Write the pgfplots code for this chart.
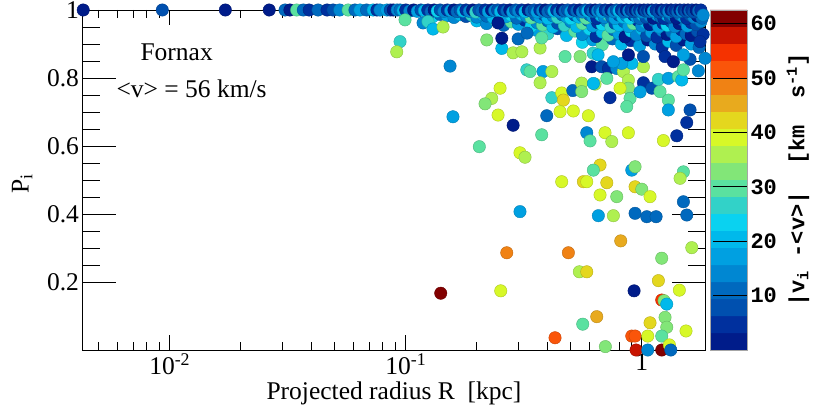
\documentclass[border=0pt]{standalone}
\usepackage{pgfplots}
\pgfplotsset{compat=1.18}
\usepackage{fontspec}
\setmainfont{Liberation Serif}
\setmonofont{Liberation Mono}
\newcommand{\fs}{\fontsize{25.5}{25.5}\selectfont}
\newcommand{\cbf}{\ttfamily\bfseries\fontsize{22}{22}\selectfont}
\definecolor{c1}{RGB}{0,28,138}
\definecolor{c2}{RGB}{0,48,158}
\definecolor{c3}{RGB}{0,80,175}
\definecolor{c4}{RGB}{0,105,190}
\definecolor{c5}{RGB}{0,135,210}
\definecolor{c6}{RGB}{0,160,225}
\definecolor{c7}{RGB}{0,185,235}
\definecolor{c8}{RGB}{10,210,240}
\definecolor{c9}{RGB}{50,210,200}
\definecolor{c10}{RGB}{90,225,160}
\definecolor{c11}{RGB}{130,230,120}
\definecolor{c12}{RGB}{175,240,80}
\definecolor{c13}{RGB}{215,248,40}
\definecolor{c14}{RGB}{228,215,30}
\definecolor{c15}{RGB}{232,170,30}
\definecolor{c16}{RGB}{240,130,20}
\definecolor{c17}{RGB}{250,85,10}
\definecolor{c18}{RGB}{245,50,0}
\definecolor{c19}{RGB}{200,20,0}
\definecolor{c20}{RGB}{130,0,0}
\pgfplotsset{
  colormap={rootjet}{color=(c1) color=(c2) color=(c3) color=(c4) color=(c5) color=(c6) color=(c7) color=(c8) color=(c9) color=(c10) color=(c11) color=(c12) color=(c13) color=(c14) color=(c15) color=(c16) color=(c17) color=(c18) color=(c19) color=(c20)},
  dots/.style={scatter, only marks, mark=*, mark size=6.2pt, scatter src=explicit},
  band/.style={draw=none, fill=#1, forget plot},
}
\begin{document}
\begin{tikzpicture}
% axis carrying the x ticks and x label
\begin{axis}[
  at={(0,0)}, anchor=south west,
  width=623pt, height=340pt, scale only axis,
  xmode=log, xmin=0.00427, xmax=1.862, ymin=0, ymax=1,
  axis line style={draw=none},
  ytick=\empty,
  xtick={0.001,0.01,0.1,1},
  xticklabels={10\textsuperscript{-3},10\textsuperscript{-2},10\textsuperscript{-1},1},
  xtick pos=both, tick align=inside,
  major tick length=15pt, minor tick length=8pt,
  tick style={black, line width=0.8pt},
  xticklabel style={font=\fs},
  xlabel={Projected radius R\ \ [kpc]},
  xlabel style={font=\fs},
]
\end{axis}
% colour scale
\begin{axis}[
  at={(627.5pt,0)}, anchor=south west,
  width=37pt, height=340pt, scale only axis,
  xmin=0, xmax=1, ymin=0, ymax=62.5,
  axis on top,
  xtick=\empty,
  ytick={10,20,30,40,50,60},
  yticklabels={10,20,30,40,50,60},
  yticklabel pos=right, ytick pos=right,
  tick align=inside,
  major tick length=34pt, yminorticks=false,
  tick style={black, line width=0.8pt},
  axis line style={draw=gray!70},
  yticklabel style={font=\cbf},
  ylabel={|v\textsubscript{i} -<v>|~~[km~~s\textsuperscript{-1}]},
  ylabel style={font=\cbf, at={(axis description cs:2.38,0.5)}, anchor=center},
]
\addplot[band=c1] coordinates {(0,0) (1,0) (1,3.2) (0,3.2) (0,0)};
\addplot[band=c2] coordinates {(0,3.125) (1,3.125) (1,6.3) (0,6.3) (0,3.125)};
\addplot[band=c3] coordinates {(0,6.25) (1,6.25) (1,9.45) (0,9.45) (0,6.25)};
\addplot[band=c4] coordinates {(0,9.375) (1,9.375) (1,12.57) (0,12.57) (0,9.375)};
\addplot[band=c5] coordinates {(0,12.5) (1,12.5) (1,15.7) (0,15.7) (0,12.5)};
\addplot[band=c6] coordinates {(0,15.625) (1,15.625) (1,18.82) (0,18.82) (0,15.625)};
\addplot[band=c7] coordinates {(0,18.75) (1,18.75) (1,21.95) (0,21.95) (0,18.75)};
\addplot[band=c8] coordinates {(0,21.875) (1,21.875) (1,25.07) (0,25.07) (0,21.875)};
\addplot[band=c9] coordinates {(0,25) (1,25) (1,28.2) (0,28.2) (0,25)};
\addplot[band=c10] coordinates {(0,28.125) (1,28.125) (1,31.32) (0,31.32) (0,28.125)};
\addplot[band=c11] coordinates {(0,31.25) (1,31.25) (1,34.45) (0,34.45) (0,31.25)};
\addplot[band=c12] coordinates {(0,34.375) (1,34.375) (1,37.57) (0,37.57) (0,34.375)};
\addplot[band=c13] coordinates {(0,37.5) (1,37.5) (1,40.7) (0,40.7) (0,37.5)};
\addplot[band=c14] coordinates {(0,40.625) (1,40.625) (1,43.82) (0,43.82) (0,40.625)};
\addplot[band=c15] coordinates {(0,43.75) (1,43.75) (1,46.95) (0,46.95) (0,43.75)};
\addplot[band=c16] coordinates {(0,46.875) (1,46.875) (1,50.07) (0,50.07) (0,46.875)};
\addplot[band=c17] coordinates {(0,50) (1,50) (1,53.2) (0,53.2) (0,50)};
\addplot[band=c18] coordinates {(0,53.125) (1,53.125) (1,56.32) (0,56.32) (0,53.125)};
\addplot[band=c19] coordinates {(0,56.25) (1,56.25) (1,59.45) (0,59.45) (0,56.25)};
\addplot[band=c20] coordinates {(0,59.375) (1,59.375) (1,62.5) (0,62.5) (0,59.375)};
\end{axis}
% axis carrying the data and y ticks
\begin{axis}[
  at={(0,0)}, anchor=south west,
  width=623pt, height=340pt, scale only axis,
  xmode=log, xmin=0.00427, xmax=1.862, ymin=0, ymax=1,
  clip=false,
  axis line style={black, line width=0.8pt},
  xtick=\empty,
  ytick={0.2,0.4,0.6,0.8,1},
  yticklabels={0.2,0.4,0.6,0.8,1},
  minor y tick num=3,
  ytick pos=both, tick align=inside,
  major tick length=34pt, minor tick length=18pt,
  tick style={black, line width=0.8pt},
  yticklabel style={font=\fs},
  ylabel={P\textsubscript{i}},
  ylabel style={font=\fs, at={(axis description cs:-0.097,0.49)}, anchor=center},
  colormap name=rootjet,
  colormap access=piecewise constant,
  point meta min=0, point meta max=62.5,
]
% layer E
\addplot[dots] table[x=R,y=P,meta=v] {
R P v
0.560 0.905 23.4
0.620 0.912 17.2
0.680 0.898 29.7
0.750 0.915 10.9
0.820 0.900 20.3
0.900 0.910 4.7
0.980 0.895 17.2
1.060 0.912 1.6
1.140 0.900 14.1
1.220 0.890 4.7
1.300 0.908 20.3
1.400 0.896 7.8
1.500 0.912 1.6
1.620 0.900 17.2
1.750 0.890 10.9
};
% layer D
\addplot[dots] table[x=R,y=P,meta=v] {
R P v
0.360 0.940 17.2
0.400 0.930 26.6
0.440 0.945 7.8
0.480 0.925 20.3
0.520 0.938 29.7
0.560 0.928 14.1
0.600 0.944 23.4
0.640 0.922 4.7
0.680 0.935 20.3
0.720 0.926 29.7
0.760 0.942 10.9
0.800 0.930 17.2
0.850 0.921 1.6
0.900 0.938 23.4
0.950 0.927 14.1
1.000 0.944 20.3
1.050 0.924 7.8
1.100 0.935 17.2
1.160 0.920 4.7
1.220 0.940 14.1
1.280 0.928 1.6
1.340 0.936 10.9
1.400 0.922 17.2
1.470 0.942 4.7
1.540 0.930 10.9
1.620 0.925 1.6
1.720 0.938 7.8
1.820 0.928 4.7
};
% layer C
\addplot[dots] table[x=R,y=P,meta=v] {
R P v
0.200 0.968 20.3
0.220 0.960 14.1
0.240 0.970 26.6
0.260 0.955 10.9
0.280 0.965 29.7
0.300 0.958 17.2
0.320 0.970 4.7
0.340 0.952 23.4
0.360 0.963 14.1
0.380 0.956 29.7
0.400 0.968 10.9
0.420 0.950 20.3
0.440 0.961 7.8
0.470 0.955 26.6
0.500 0.966 14.1
0.530 0.951 20.3
0.560 0.960 29.7
0.590 0.970 10.9
0.620 0.953 17.2
0.650 0.963 4.7
0.680 0.957 23.4
0.710 0.968 14.1
0.740 0.950 26.6
0.770 0.961 7.8
0.800 0.955 20.3
0.840 0.966 10.9
0.880 0.951 17.2
0.920 0.960 29.7
0.960 0.970 4.7
1.000 0.953 14.1
1.040 0.963 20.3
1.080 0.957 1.6
1.130 0.968 10.9
1.180 0.950 17.2
1.230 0.961 4.7
1.280 0.955 23.4
1.330 0.966 7.8
1.380 0.951 14.1
1.440 0.960 1.6
1.500 0.970 10.9
1.560 0.953 17.2
1.620 0.963 4.7
1.700 0.957 7.8
1.780 0.966 14.1
};
% layer B
\addplot[dots] table[x=R,y=P,meta=v] {
R P v
0.130 0.980 23.4
0.140 0.987 10.9
0.150 0.983 17.2
0.160 0.978 14.1
0.170 0.986 20.3
0.180 0.981 7.8
0.190 0.985 26.6
0.200 0.979 14.1
0.210 0.987 17.2
0.220 0.982 10.9
0.235 0.977 20.3
0.250 0.986 4.7
0.265 0.980 17.2
0.280 0.984 23.4
0.295 0.976 10.9
0.310 0.987 20.3
0.325 0.981 14.1
0.340 0.977 29.7
0.355 0.985 10.9
0.370 0.979 17.2
0.385 0.986 7.8
0.400 0.975 20.3
0.420 0.983 14.1
0.440 0.978 26.6
0.460 0.986 10.9
0.480 0.980 17.2
0.500 0.975 23.4
0.520 0.985 7.8
0.540 0.979 20.3
0.560 0.983 14.1
0.580 0.976 29.7
0.600 0.986 10.9
0.620 0.980 17.2
0.645 0.975 4.7
0.670 0.984 20.3
0.695 0.978 14.1
0.720 0.986 26.6
0.745 0.980 10.9
0.770 0.975 17.2
0.800 0.985 7.8
0.830 0.979 20.3
0.860 0.983 14.1
0.890 0.976 23.4
0.920 0.986 4.7
0.950 0.980 17.2
0.980 0.975 10.9
1.010 0.985 20.3
1.040 0.979 7.8
1.080 0.983 14.1
1.120 0.976 1.6
1.160 0.986 17.2
1.200 0.980 10.9
1.240 0.975 4.7
1.280 0.985 20.3
1.320 0.979 7.8
1.360 0.983 14.1
1.400 0.976 1.6
1.450 0.986 10.9
1.500 0.980 17.2
1.550 0.975 4.7
1.600 0.985 7.8
1.660 0.979 14.1
1.720 0.983 1.6
1.800 0.976 10.9
};
% layer A (P close to 1)
\addplot[dots] table[x=R,y=P,meta=v] {
R P v
0.0043 1.0 1.6
0.0093 1.0 7.8
0.0172 1.0 1.6
0.0264 1.0 1.6
0.0308 1.0 10.9
0.0323 1.0 1.6
0.0345 1.0 29.7
0.0368 1.0 10.9
0.0390 1.0 4.7
0.0425 1.0 10.9
0.0464 1.0 4.7
0.0492 1.0 7.8
0.0525 1.0 14.1
0.0570 1.0 29.7
0.0609 1.0 10.9
0.0640 1.0 17.2
0.0682 1.0 10.9
0.0728 1.0 20.3
0.0755 1.0 4.7
0.0778 1.0 14.1
0.0831 1.0 17.2
0.0860 1.0 7.8
0.0886 1.0 1.6
0.0920 1.0 14.1
0.0946 1.0 10.9
0.0975 0.998 20.3
0.100 1.0 4.7
0.104 0.997 14.1
0.108 1.0 1.6
0.112 0.996 17.2
0.116 1.0 7.8
0.120 0.998 20.3
0.124 1.0 4.7
0.128 0.995 10.9
0.132 1.0 1.6
0.136 0.997 23.4
0.140 1.0 7.8
0.145 0.996 14.1
0.150 1.0 4.7
0.155 0.998 17.2
0.160 1.0 1.6
0.165 0.995 10.9
0.170 1.0 7.8
0.175 0.997 20.3
0.180 1.0 4.7
0.186 0.996 14.1
0.192 1.0 1.6
0.198 0.994 26.6
0.204 1.0 7.8
0.210 0.997 10.9
0.217 1.0 4.7
0.224 0.995 17.2
0.231 1.0 1.6
0.238 0.998 14.1
0.245 1.0 7.8
0.252 0.995 20.3
0.260 1.0 4.7
0.268 0.997 10.9
0.276 1.0 1.6
0.284 0.994 17.2
0.292 1.0 7.8
0.300 0.997 14.1
0.310 1.0 4.7
0.320 0.995 20.3
0.330 1.0 1.6
0.340 0.997 10.9
0.350 1.0 7.8
0.360 0.994 17.2
0.370 1.0 4.7
0.380 0.997 14.1
0.390 1.0 1.6
0.400 0.995 10.9
0.412 1.0 7.8
0.424 0.997 20.3
0.436 1.0 4.7
0.448 0.994 14.1
0.460 1.0 1.6
0.472 0.997 10.9
0.485 1.0 7.8
0.500 0.995 17.2
0.515 1.0 4.7
0.530 0.997 10.9
0.545 1.0 1.6
0.560 0.994 14.1
0.575 1.0 7.8
0.590 0.997 20.3
0.605 1.0 4.7
0.620 0.995 10.9
0.635 1.0 1.6
0.650 0.997 14.1
0.665 1.0 7.8
0.680 0.994 17.2
0.700 1.0 4.7
0.720 0.997 10.9
0.740 1.0 1.6
0.760 0.995 14.1
0.780 1.0 7.8
0.800 0.997 20.3
0.820 1.0 4.7
0.840 0.994 10.9
0.860 1.0 1.6
0.880 0.997 14.1
0.900 1.0 4.7
0.920 0.995 7.8
0.940 1.0 1.6
0.960 0.997 10.9
0.980 1.0 4.7
1.000 0.994 14.1
1.020 1.0 1.6
1.040 0.997 7.8
1.060 1.0 4.7
1.080 0.995 10.9
1.100 1.0 1.6
1.120 0.997 17.2
1.150 1.0 4.7
1.180 0.994 7.8
1.210 1.0 1.6
1.240 0.997 10.9
1.270 1.0 4.7
1.300 0.995 14.1
1.330 1.0 1.6
1.360 0.997 7.8
1.390 1.0 4.7
1.420 0.994 10.9
1.450 1.0 1.6
1.480 0.997 14.1
1.510 1.0 4.7
1.540 0.995 7.8
1.570 1.0 1.6
1.600 0.997 10.9
1.630 1.0 4.7
1.660 0.994 7.8
1.700 1.0 1.6
1.740 0.997 10.9
1.780 1.0 4.7
1.820 0.985 14.1
};
% scattered stars
\addplot[dots] table[x=R,y=P,meta=v] {
R P v
0.0993 0.971 29.7
0.0946 0.907 26.6
0.0916 0.877 35.9
0.1184 0.962 14.1
0.1242 0.966 26.6
0.1305 0.944 20.3
0.1439 0.950 35.9
0.1541 0.835 14.1
0.1585 0.686 17.2
0.2205 0.912 32.8
0.2553 0.887 20.3
0.2553 0.917 1.6
0.2461 0.962 1.6
0.2851 0.874 35.9
0.3105 0.877 35.9
0.2993 0.915 10.9
0.3266 0.932 10.9
0.3708 0.888 35.9
0.3768 0.918 29.7
0.2510 0.770 39.1
0.2314 0.740 35.9
0.2168 0.724 32.8
0.2461 0.691 39.1
0.2851 0.661 1.6
0.3257 0.824 26.6
0.3365 0.819 29.7
0.3819 0.819 17.2
0.4159 0.819 35.9
0.3708 0.786 35.9
0.4159 0.742 26.6
0.4580 0.756 39.1
0.4654 0.735 42.2
0.5102 0.763 10.9
0.5567 0.785 35.9
0.5567 0.760 32.8
0.4507 0.701 39.1
0.5129 0.703 39.1
0.5939 0.689 39.1
0.3958 0.689 10.9
0.3768 0.633 29.7
0.2050 0.598 29.7
0.3048 0.580 39.1
0.3202 0.567 35.9
0.5848 0.639 14.1
0.6039 0.615 29.7
0.6989 0.639 39.1
0.7464 0.613 35.9
0.8775 0.639 39.1
0.7338 0.742 4.7
0.6340 0.782 35.9
0.6240 0.784 20.3
0.4732 0.863 29.7
0.5477 0.863 32.8
0.6220 0.873 26.6
0.6530 0.868 20.3
0.6138 0.833 1.6
0.6767 0.833 7.8
0.7222 0.828 4.7
0.7836 0.828 14.1
0.7112 0.799 29.7
0.8357 0.819 35.9
0.8775 0.794 35.9
0.8775 0.770 32.8
0.8092 0.770 39.1
0.8920 0.740 29.7
0.8638 0.716 29.7
1.016 0.786 4.7
1.103 0.770 7.8
0.9835 0.759 17.2
1.195 0.760 29.7
1.296 0.735 29.7
1.176 0.796 26.6
1.296 0.799 17.2
1.430 0.804 29.7
1.477 0.794 20.3
1.296 0.706 17.2
1.602 0.706 7.8
1.551 0.669 4.7
1.407 0.630 4.7
1.235 0.616 39.1
1.737 0.821 14.1
1.854 0.858 14.1
1.602 0.855 7.8
1.501 0.868 17.2
1.766 0.907 4.7
1.016 0.833 35.9
0.9071 0.843 20.3
0.8225 0.843 17.2
0.7580 0.848 17.2
0.8775 0.868 1.6
1.016 0.863 7.8
1.255 0.863 4.7
1.361 0.848 1.6
1.501 0.824 29.7
0.6657 0.544 42.2
0.6235 0.529 29.7
0.4580 0.495 39.1
0.5657 0.495 42.2
0.5848 0.495 39.1
0.7112 0.492 42.2
0.6657 0.456 39.1
0.7836 0.451 32.8
0.9071 0.529 17.2
0.9368 0.539 32.8
0.9368 0.480 42.2
1.000 0.473 32.8
1.084 0.451 39.1
1.501 0.524 29.7
1.453 0.505 35.9
1.501 0.436 10.9
0.3048 0.407 17.2
0.6547 0.395 17.2
0.7581 0.395 35.9
0.9368 0.402 10.9
1.050 0.392 10.9
1.150 0.392 10.9
1.551 0.397 10.9
0.2679 0.286 48.4
0.4887 0.286 48.4
0.8147 0.321 45.3
1.629 0.301 35.9
1.215 0.270 32.8
0.5439 0.230 35.9
0.5848 0.230 42.2
1.176 0.204 42.2
0.1407 0.167 60.9
0.2526 0.174 39.1
0.9277 0.174 1.6
1.443 0.176 39.1
1.215 0.147 54.7
1.243 0.145 32.8
1.276 0.135 20.3
0.6446 0.098 45.3
0.5623 0.076 29.7
1.255 0.096 32.8
1.084 0.080 42.2
1.276 0.067 32.8
1.540 0.056 39.1
0.4291 0.036 51.6
0.9071 0.041 51.6
0.9368 0.041 51.6
1.060 0.041 39.1
1.215 0.041 29.7
0.7010 0.010 32.8
0.9458 0.000 57.8
1.060 0.000 14.1
1.215 0.000 60.9
1.309 0.015 39.1
1.327 0.000 10.9
};
\node[anchor=base west, font=\fs] at (rel axis cs:0.0875,0.85) {Fornax};
\node[anchor=base west, font=\fs] at (rel axis cs:0.049,0.744) {<v> = 56 km/s};
\end{axis}
\pgfresetboundingbox
\path[use as bounding box] (-82.5pt,-63pt) rectangle (747.5pt,350pt);
\end{tikzpicture}
\end{document}
